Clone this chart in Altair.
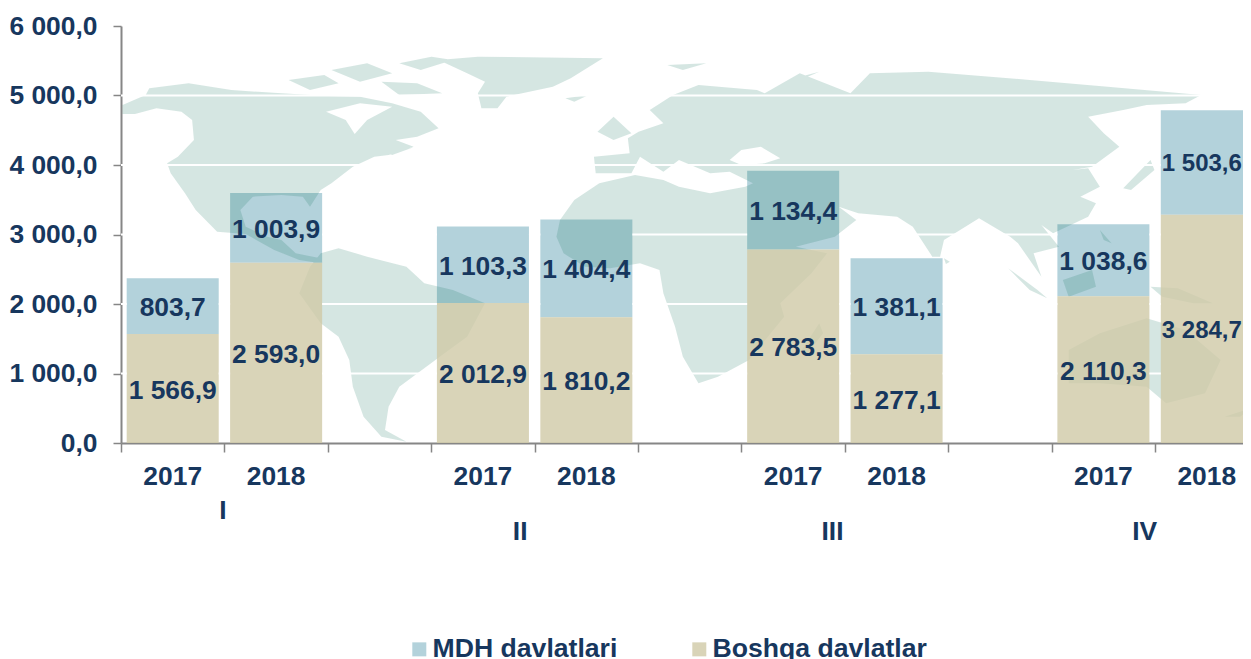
import altair as alt
import pandas as pd

# ---------- chart values ----------
quarters = ["I", "II", "III", "IV"]
years = ["2017", "2018"]
mdh = [803.7, 1003.9, 1103.3, 1404.4, 1134.4, 1381.1, 1038.6, 1503.6]
boshqa = [1566.9, 2593.0, 2012.9, 1810.2, 2783.5, 1277.1, 2110.3, 3284.7]
series_names = ["MDH davlatlari", "Boshqa davlatlar"]
y_ticks = [0, 1000, 2000, 3000, 4000, 5000, 6000]
grid_levels = [1000, 2000, 3000, 4000, 5000]
quarter_x = [0.986, 3.86, 6.88, 9.9]
quarter_y = [485, 506, 506, 506]
year_y = 451

NAVY = "#17375E"
GREY = "#868686"
BLUE = "#A0C7D2"
TAN = "#CFC9A6"
FONT = "Liberation Sans"
FONT_SIZE = 26.4

STEP = 103.41
VIEW_W = 1122
PLOT_H = 417

# ---------- backdrop world map (rough outlines, in two traced map sheets) ----------
def w(pts):
    return [[110 + x / 2.8, 40 + y / 3] for x, y in pts]

def e(pts):
    return [[640 + x / 2.566, 40 + y / 3] for x, y in pts]

north_america = w([(35, 222), (35, 195), (100, 165), (110, 145), (220, 130), (340, 150), (480, 160), (610, 168),
                   (700, 170), (790, 190), (870, 215), (920, 265), (860, 290), (800, 300), (850, 320), (780, 345),
                   (740, 350), (680, 380), (620, 430), (590, 450), (560, 500), (540, 470), (480, 465), (400, 470),
                   (365, 510), (380, 560), (440, 590), (480, 600), (520, 640), (590, 655), (590, 670), (530, 660),
                   (460, 630), (380, 582), (300, 575), (240, 510), (210, 460), (170, 400), (160, 370), (190, 350),
                   (235, 300), (230, 240), (200, 215), (130, 205), (70, 222)])
hudson = w([(605, 215), (660, 240), (685, 282), (720, 240), (790, 200), (700, 190)])
south_america = w([(590, 640), (640, 625), (720, 650), (830, 680), (880, 730), (960, 750), (1050, 790), (1000, 890),
                   (930, 945), (880, 985), (810, 1040), (780, 1100), (770, 1170), (830, 1205), (760, 1190), (710, 1130),
                   (680, 1040), (670, 960), (640, 890), (590, 850), (530, 760), (560, 680)])
greenland = w([(920, 60), (1030, 50), (1380, 55), (1290, 115), (1240, 140), (1110, 170), (1085, 205), (1040, 205),
               (1030, 160), (1050, 125), (1000, 100)])
arctic_1 = w([(500, 120), (600, 105), (640, 130), (560, 150)])
arctic_2 = w([(620, 90), (720, 70), (790, 100), (700, 125)])
arctic_3 = w([(810, 70), (900, 50), (960, 60), (870, 90)])
arctic_4 = w([(760, 125), (860, 130), (930, 160), (810, 165)])
newfoundland = w([(780, 340), (850, 322), (790, 345)])
uk = w([(1365, 275), (1410, 230), (1460, 280), (1410, 300)])
iceland = w([(1275, 175), (1340, 165), (1300, 185)])
africa = (w([(1250, 590), (1260, 540), (1300, 480), (1370, 430), (1470, 405)])
          + e([(60, 420), (100, 440), (180, 460), (270, 440), (290, 430), (345, 540), (400, 620), (480, 640), (440, 700),
               (360, 790), (370, 830), (280, 960), (200, 1010), (150, 1030), (110, 950), (90, 860), (60, 760),
               (50, 690), (0, 670)])
          + w([(1400, 685), (1330, 680), (1270, 640)]))
eurasia = (w([(1355, 350), (1455, 340), (1450, 295), (1480, 275)])
           + e([(60, 250), (25, 210), (85, 165), (150, 135), (300, 150), (320, 160), (410, 100), (540, 160),
                (590, 100), (740, 95), (1000, 120), (1200, 140), (1440, 165), (1400, 190), (1300, 195), (1240, 210),
                (1150, 230), (1190, 280), (1230, 320), (1160, 380), (1110, 390), (1150, 385), (1180, 440),
                (1130, 470), (1170, 490), (1150, 530), (1060, 580), (1030, 555), (1075, 620), (1010, 640),
                (1030, 710), (970, 610), (950, 590), (870, 535), (780, 600), (770, 650), (750, 650), (700, 560),
                (660, 530), (560, 520), (510, 500), (555, 540), (500, 590), (400, 620), (345, 540), (290, 430),
                (230, 395), (180, 400), (100, 360), (60, 395), (0, 350)])
           + w([(1460, 400), (1360, 400)]))
black_sea = e([(230, 360), (260, 375), (320, 370), (360, 355), (310, 320), (260, 330)])
japan = e([(1240, 445), (1310, 360), (1320, 390), (1260, 450)])
svalbard = e([(70, 75), (170, 70), (110, 90)])
novaya = e([(380, 120), (460, 95), (400, 125)])
madagascar = e([(415, 930), (460, 850), (470, 880), (430, 940)])
sri_lanka = e([(780, 655), (795, 665), (785, 672)])
sumatra = e([(945, 685), (1020, 750), (1045, 775), (1000, 750)])
borneo = e([(1085, 720), (1160, 690), (1170, 740), (1100, 770)])
philippines = e([(1180, 570), (1210, 610), (1190, 600)])
new_guinea = e([(1310, 740), (1380, 745), (1470, 790), (1420, 790), (1340, 770)])
australia = e([(1100, 930), (1180, 880), (1300, 835), (1400, 870), (1490, 960), (1450, 1060), (1350, 1090), (1300, 1040),
               (1180, 1030), (1100, 1030)])
new_zealand = e([(1500, 1130), (1568, 1105), (1540, 1130)])

def ring(p):
    return p + [p[0]]

land = [[ring(north_america), ring(hudson)], [ring(eurasia), ring(black_sea)]] + [
    [ring(p)] for p in [south_america, greenland, arctic_1, arctic_2, arctic_3, arctic_4, newfoundland, uk, iceland,
                        africa, japan, svalbard, novaya, madagascar, sri_lanka, sumatra, borneo, philippines,
                        new_guinea, australia, new_zealand]
]
world = [{"type": "Feature", "properties": {}, "geometry": {"type": "MultiPolygon", "coordinates": land}}]

# ---------- tables: three slots per quarter (2017, 2018, gap) ----------
slots = []
for qi, q in enumerate(quarters):
    slots += [(qi * 3, years[0]), (qi * 3 + 1, years[1])]

def fmt(v):
    return f"{v:,.1f}".replace(",", " ").replace(".", ",")

BAR_FRAC = 0.89
PAD = (1 - BAR_FRAC) / 2

rows = []
for (slot, _), a, b in zip(slots, mdh, boshqa):
    common = dict(slot=slot, left=slot + PAD, right=slot + 1 - PAD, centre=slot + 0.5)
    rows.append(dict(common, series=series_names[1], y0=0, y1=b, mid=b / 2, label=fmt(b)))
    rows.append(dict(common, series=series_names[0], y0=b, y1=a + b, mid=b + a / 2, label=fmt(a)))
df = pd.DataFrame(rows)
last_slot = slots[-1][0]

totals = {s[0]: a + b for s, a, b in zip(slots, mdh, boshqa)}
segs = []
for level in grid_levels:
    start = 0.0
    for slot in range(last_slot + 1):
        if totals.get(slot, 0) > level:
            segs.append(dict(a=start, b=slot + PAD, y=level))
            start = slot + 1 - PAD
    segs.append(dict(a=start, b=last_slot + 1, y=level))
seg_df = pd.DataFrame(segs)

q_df = pd.DataFrame(dict(q=quarters, x=quarter_x, py=quarter_y))
year_df = pd.DataFrame([dict(year=y, centre=s + 0.5, py=year_y) for s, y in slots])

# ---------- scales ----------
x_num = alt.Scale(domain=[0, VIEW_W / STEP], nice=False, zero=False)
y_scale = alt.Scale(domain=[0, 6000], nice=False)
color = alt.Scale(domain=series_names, range=[BLUE, TAN])

x_axis = alt.Axis(
    title=None, values=list(range(last_slot + 1)), labels=False,
    tickSize=9, tickWidth=1.5, tickColor=GREY, domainColor=GREY, domainWidth=2, grid=False,
)
y_axis = alt.Axis(
    title=None, values=y_ticks, grid=False,
    labelExpr="replace(replace(format(datum.value,',.1f'),',',' '),'.',',')",
    labelFontSize=FONT_SIZE, labelFont=FONT, labelFontWeight="bold", labelColor=NAVY, labelPadding=16,
    tickSize=8, tickWidth=1.5, tickColor=GREY, domainColor=GREY, domainWidth=2,
)
legend = alt.Legend(
    title=None, orient="none", legendX=285, legendY=610, direction="horizontal",
    symbolType="square", symbolSize=196, symbolOpacity=0.8, symbolStrokeWidth=0,
    labelFontSize=26.6, labelFont=FONT, labelFontWeight="bold", labelColor=NAVY, labelLimit=400,
    labelOffset=0, columnPadding=68,
)

text_style = dict(font=FONT, fontWeight="bold", color=NAVY, baseline="middle", align="center")

# ---------- layers ----------
blue_bars = alt.Chart(df[df.series == series_names[0]]).mark_bar(opacity=0.8).encode(
    x=alt.X("left:Q", scale=x_num, axis=x_axis),
    x2="right:Q",
    y=alt.Y("y0:Q", scale=y_scale, axis=y_axis),
    y2="y1:Q",
    color=alt.Color("series:N", scale=color, legend=legend, sort=series_names),
)
map_layer = alt.Chart(alt.Data(values=world)).mark_geoshape(
    fill="#14735F", fillOpacity=0.18, stroke=None
).project(type="identity", scale=1, translate=[-121, -26])
tan_bars = alt.Chart(df[df.series == series_names[1]]).mark_bar(opacity=0.8).encode(
    x=alt.X("left:Q", scale=x_num, axis=None),
    x2="right:Q",
    y=alt.Y("y0:Q", scale=y_scale, axis=None),
    y2="y1:Q",
    color=alt.Color("series:N", scale=color, legend=legend, sort=series_names),
)
grid = alt.Chart(seg_df).mark_rule(color="white", strokeWidth=2).encode(
    x=alt.X("a:Q", scale=x_num, axis=None),
    x2="b:Q",
    y=alt.Y("y:Q", scale=y_scale, axis=None),
)
values = alt.Chart(df[df.slot != last_slot]).mark_text(fontSize=FONT_SIZE, dy=2, **text_style).encode(
    x=alt.X("centre:Q", scale=x_num, axis=None),
    y=alt.Y("mid:Q", scale=y_scale, axis=None),
    text="label:N",
)
# the last column's bar runs into the window edge: keep its labels fully visible
values_last = alt.Chart(df[df.slot == last_slot]).mark_text(fontSize=24, dy=2, dx=-5, **text_style).encode(
    x=alt.X("centre:Q", scale=x_num, axis=None),
    y=alt.Y("mid:Q", scale=y_scale, axis=None),
    text="label:N",
)
year_labels = alt.Chart(year_df).mark_text(fontSize=FONT_SIZE, **text_style).encode(
    x=alt.X("centre:Q", scale=x_num, axis=None),
    y=alt.Y("py:Q", scale=None, axis=None),
    text="year:N",
)
q_labels = alt.Chart(q_df).mark_text(fontSize=FONT_SIZE, **text_style).encode(
    x=alt.X("x:Q", scale=x_num, axis=None),
    y=alt.Y("py:Q", scale=None, axis=None),
    text="q:N",
)

chart = alt.layer(blue_bars, map_layer, tan_bars, grid, values, values_last, year_labels, q_labels).resolve_scale(
    y="independent"
).resolve_axis(y="independent", x="independent").properties(
    width=VIEW_W,
    height=PLOT_H,
    background="white",
    padding={"left": 113, "top": 18, "right": 0, "bottom": 216},
    autosize=alt.AutoSizeParams(type="none"),
).configure_view(stroke=None)

chart.save("out.html", embed_options={"renderer": "svg", "actions": False})
